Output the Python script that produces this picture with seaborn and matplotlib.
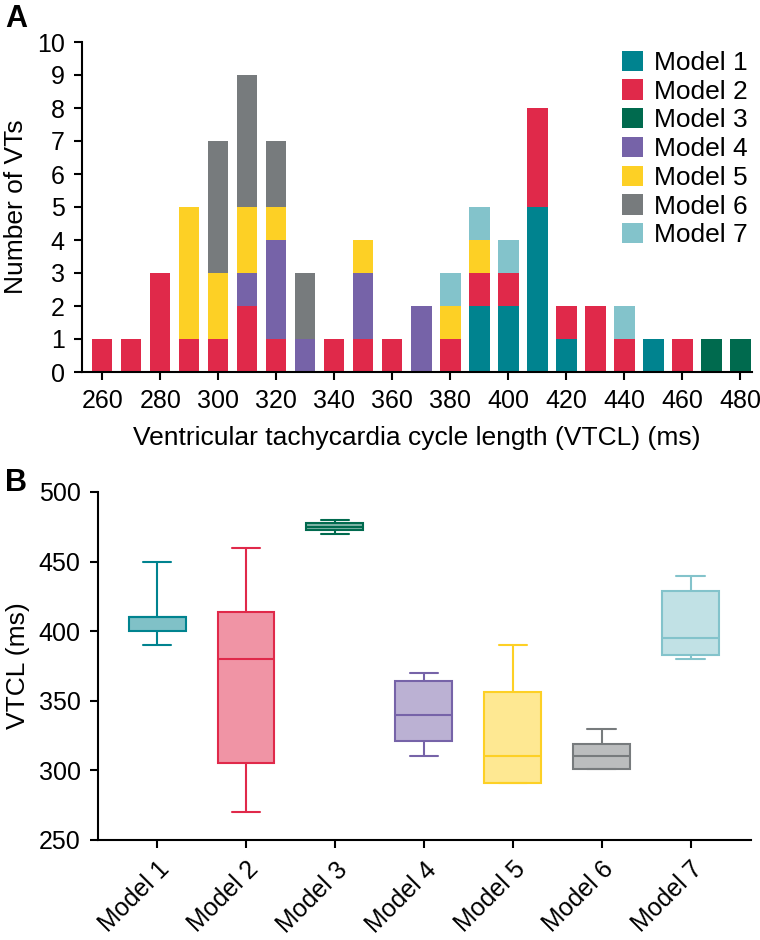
import numpy as np
import pandas as pd
import matplotlib.pyplot as plt
import seaborn as sns
from matplotlib.patches import Patch
from matplotlib.colors import to_rgb

# histogram data: number of VTs per cycle-length bin and model
vtcl_bins = [260, 270, 280, 290, 300, 310, 320, 330, 340, 350, 360, 370,
             380, 390, 400, 410, 420, 430, 440, 450, 460, 470, 480]
model1_counts = [0, 0, 0, 0, 0, 0, 0, 0, 0, 0, 0, 0, 0, 2, 2, 5, 1, 0, 0, 1, 0, 0, 0]
model2_counts = [1, 1, 3, 1, 1, 2, 1, 0, 1, 1, 1, 0, 1, 1, 1, 3, 1, 2, 1, 0, 1, 0, 0]
model3_counts = [0, 0, 0, 0, 0, 0, 0, 0, 0, 0, 0, 0, 0, 0, 0, 0, 0, 0, 0, 0, 0, 1, 1]
model4_counts = [0, 0, 0, 0, 0, 1, 3, 1, 0, 2, 0, 2, 0, 0, 0, 0, 0, 0, 0, 0, 0, 0, 0]
model5_counts = [0, 0, 0, 4, 2, 2, 1, 0, 0, 1, 0, 0, 1, 1, 0, 0, 0, 0, 0, 0, 0, 0, 0]
model6_counts = [0, 0, 0, 0, 4, 4, 2, 2, 0, 0, 0, 0, 0, 0, 0, 0, 0, 0, 0, 0, 0, 0, 0]
model7_counts = [0, 0, 0, 0, 0, 0, 0, 0, 0, 0, 0, 0, 1, 1, 1, 0, 0, 0, 1, 0, 0, 0, 0]

# box plot data: min, q1, median, q3, max of VTCL (ms)
model1_box = [390, 400, 410, 410, 450]
model2_box = [270, 305, 380, 414, 460]
model3_box = [470, 473, 475, 478, 480]
model4_box = [310, 321, 340, 364, 370]
model5_box = [291, 291, 310, 356, 390]
model6_box = [301, 301, 310, 319, 330]
model7_box = [380, 383, 395, 429, 440]

models = ["Model 1", "Model 2", "Model 3", "Model 4", "Model 5", "Model 6", "Model 7"]
colors = ["#00838F", "#E0294A", "#006A4E", "#7663A8", "#FDD025", "#777B7D", "#83C3CB"]

all_counts = [model1_counts, model2_counts, model3_counts, model4_counts,
              model5_counts, model6_counts, model7_counts]
all_boxes = [model1_box, model2_box, model3_box, model4_box,
             model5_box, model6_box, model7_box]

sns.set_theme(style="ticks")
plt.rcParams['font.family'] = ['Liberation Sans', 'DejaVu Sans']
plt.rcParams.update({'text.color': 'black', 'axes.labelcolor': 'black',
                     'xtick.color': 'black', 'ytick.color': 'black'})
fs = 18      # tick labels
lfs = 19     # axis labels and legend

hist_df = pd.DataFrame({
    'vtcl': np.tile(vtcl_bins, len(models)),
    'model': np.repeat(models, len(vtcl_bins)),
    'count': np.concatenate(all_counts),
})

fig = plt.figure(figsize=(7.6, 9.4), dpi=100)

# panel A - stacked histogram
axA = fig.add_axes([82 / 760, 1 - 372 / 940, (752 - 82) / 760, (372 - 42) / 940])
sns.histplot(data=hist_df, x='vtcl', weights='count', hue='model',
             hue_order=models[::-1], palette=dict(zip(models, colors)),
             multiple='stack', binwidth=10, binrange=(255, 485), shrink=0.7,
             alpha=1, linewidth=0, legend=False, ax=axA)
axA.set_xlim(253, 484)
axA.set_ylim(0, 10)
axA.set_xticks(range(260, 481, 20))
axA.set_yticks(range(0, 11))
axA.set_xlabel("Ventricular tachycardia cycle length (VTCL) (ms)", fontsize=lfs, labelpad=9)
axA.set_ylabel("Number of VTs", fontsize=lfs, labelpad=6.5)
handles = [Patch(facecolor=c, edgecolor='none', label=m) for m, c in zip(models, colors)]
axA.legend(handles=handles, loc='upper right', bbox_to_anchor=(1.01, 1.006),
           frameon=False, fontsize=lfs, handlelength=0.8, handleheight=0.8,
           handletextpad=0.42, labelspacing=0.17, borderaxespad=0)

# panel B - box plots
axB = fig.add_axes([98 / 760, 1 - 840 / 940, (751 - 98) / 760, (840 - 492) / 940])
for name, vals, c in zip(models, all_boxes, colors):
    light = tuple(0.5 * np.array(to_rgb(c)) + 0.5)
    sns.boxplot(x=[name] * len(vals), y=vals, order=models, color=light,
                linecolor=c, saturation=1, whis=(0, 100), width=0.64,
                linewidth=1.5, ax=axB)
axB.set_xlim(-0.665, 6.68)
axB.set_ylim(250, 500)
axB.set_yticks(range(250, 501, 50))
axB.set_ylabel("VTCL (ms)", fontsize=lfs, labelpad=6.5)
axB.set_xlabel("")
for lab in axB.get_xticklabels():
    lab.set_rotation(45)
    lab.set_ha('right')
    lab.set_rotation_mode('anchor')

for ax in (axA, axB):
    sns.despine(ax=ax)
    for s in ('left', 'bottom'):
        ax.spines[s].set_linewidth(1.5)
        ax.spines[s].set_color('black')
    ax.tick_params(labelsize=fs, width=1.5, length=6, color='black',
                   labelcolor='black', pad=6.5)

fig.text(5 / 760, 1 - 4 / 940, "A", fontsize=22, fontweight='bold', va='top')
fig.text(5 / 760, 1 - 468 / 940, "B", fontsize=22, fontweight='bold', va='top')

fig.savefig("out.png", dpi=100)
